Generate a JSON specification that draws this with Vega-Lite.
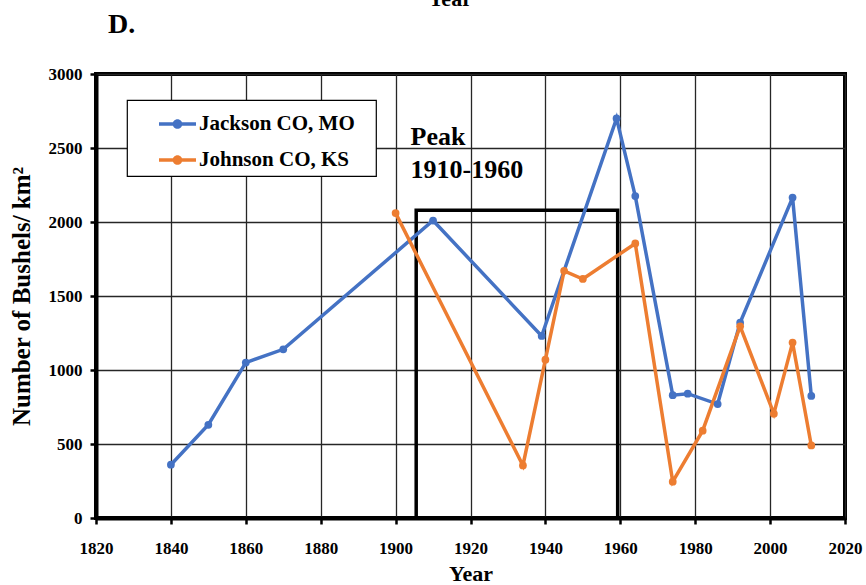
{
  "$schema": "https://vega.github.io/schema/vega-lite/v6.json",
  "width": 749,
  "height": 444,
  "autosize": {"type": "none"},
  "padding": {"left": 96, "top": 74, "right": 21, "bottom": 67},
  "background": "white",
  "datasets": {
    "counties": [
      {"county": "Jackson CO, MO", "year": 1840, "bushels": 360},
      {"county": "Jackson CO, MO", "year": 1850, "bushels": 630},
      {"county": "Jackson CO, MO", "year": 1860, "bushels": 1050},
      {"county": "Jackson CO, MO", "year": 1870, "bushels": 1140},
      {"county": "Jackson CO, MO", "year": 1910, "bushels": 2010},
      {"county": "Jackson CO, MO", "year": 1939, "bushels": 1230},
      {"county": "Jackson CO, MO", "year": 1959, "bushels": 2700},
      {"county": "Jackson CO, MO", "year": 1964, "bushels": 2175},
      {"county": "Jackson CO, MO", "year": 1974, "bushels": 830},
      {"county": "Jackson CO, MO", "year": 1978, "bushels": 840},
      {"county": "Jackson CO, MO", "year": 1986, "bushels": 770},
      {"county": "Jackson CO, MO", "year": 1992, "bushels": 1320},
      {"county": "Jackson CO, MO", "year": 2006, "bushels": 2165},
      {"county": "Jackson CO, MO", "year": 2011, "bushels": 825},
      {"county": "Johnson CO, KS", "year": 1900, "bushels": 2060},
      {"county": "Johnson CO, KS", "year": 1934, "bushels": 355},
      {"county": "Johnson CO, KS", "year": 1940, "bushels": 1070},
      {"county": "Johnson CO, KS", "year": 1945, "bushels": 1670},
      {"county": "Johnson CO, KS", "year": 1950, "bushels": 1615},
      {"county": "Johnson CO, KS", "year": 1964, "bushels": 1855},
      {"county": "Johnson CO, KS", "year": 1974, "bushels": 245},
      {"county": "Johnson CO, KS", "year": 1982, "bushels": 590},
      {"county": "Johnson CO, KS", "year": 1992, "bushels": 1295},
      {"county": "Johnson CO, KS", "year": 2001, "bushels": 705},
      {"county": "Johnson CO, KS", "year": 2006, "bushels": 1185},
      {"county": "Johnson CO, KS", "year": 2011, "bushels": 490}
    ],
    "peak": [
      {"step": 1, "year": 1905.5, "bushels": 0},
      {"step": 2, "year": 1905.5, "bushels": 2080},
      {"step": 3, "year": 1959.3, "bushels": 2080},
      {"step": 4, "year": 1959.3, "bushels": 0}
    ]
  },
  "layer": [
    {
      "data": {"name": "peak"},
      "mark": {"type": "line", "color": "black", "strokeWidth": 3.5, "strokeCap": "butt", "strokeJoin": "miter"},
      "encoding": {
        "x": {
          "field": "year",
          "type": "quantitative",
          "scale": {"domain": [1820, 2020], "nice": false, "zero": false},
          "axis": {
            "title": "Year",
            "values": [1820, 1840, 1860, 1880, 1900, 1920, 1940, 1960, 1980, 2000, 2020],
            "format": "d",
            "labelFlush": false,
            "labelPadding": 16,
            "titlePadding": 7
          }
        },
        "y": {
          "field": "bushels",
          "type": "quantitative",
          "scale": {"domain": [0, 3000], "nice": false},
          "axis": {
            "title": "Number of Bushels/ km²",
            "titleFontSize": 25,
            "values": [0, 500, 1000, 1500, 2000, 2500, 3000],
            "format": "d",
            "labelFlush": false,
            "labelPadding": 8,
            "titlePadding": 14
          }
        },
        "order": {"field": "step"}
      }
    },
    {
      "data": {"name": "counties"},
      "mark": {"type": "line", "strokeWidth": 3.5},
      "encoding": {
        "x": {"field": "year", "type": "quantitative"},
        "y": {"field": "bushels", "type": "quantitative"},
        "color": {
          "field": "county",
          "type": "nominal",
          "legend": {"labelExpr": "datum.label + '\u2800'"}
        }
      }
    },
    {
      "data": {"name": "counties"},
      "mark": {"type": "point", "filled": true, "opacity": 1, "size": 60},
      "encoding": {
        "x": {"field": "year", "type": "quantitative"},
        "y": {"field": "bushels", "type": "quantitative"},
        "color": {"field": "county", "type": "nominal"}
      }
    },
    {
      "data": {"values": [{"label": "Peak"}]},
      "mark": {
        "type": "text",
        "text": ["Peak", "1910-1960"],
        "align": "left",
        "baseline": "alphabetic",
        "lineHeight": 33,
        "font": "Liberation Serif",
        "fontSize": 26,
        "fontWeight": "bold",
        "color": "black"
      },
      "encoding": {
        "x": {"datum": 1904},
        "y": {"datum": 2520}
      }
    },
    {
      "data": {"values": [{"label": "Year"}]},
      "mark": {
        "type": "text",
        "align": "center",
        "baseline": "alphabetic",
        "font": "Liberation Serif",
        "fontSize": 22,
        "fontWeight": "bold",
        "color": "black"
      },
      "encoding": {
        "text": {"field": "label"},
        "x": {"datum": 1914.5},
        "y": {"datum": 3460}
      }
    },
    {
      "data": {"values": [{"label": "D."}]},
      "mark": {
        "type": "text",
        "align": "left",
        "baseline": "alphabetic",
        "font": "Liberation Serif",
        "fontSize": 28,
        "fontWeight": "bold",
        "color": "black"
      },
      "encoding": {
        "text": {"field": "label"},
        "x": {"datum": 1823.2},
        "y": {"datum": 3277}
      }
    }
  ],
  "config": {
    "view": {"stroke": "black", "strokeWidth": 4},
    "font": "Liberation Serif",
    "range": {"category": ["#4472C4", "#ED7D31"]},
    "axis": {
      "labelFont": "Liberation Serif",
      "labelFontSize": 17,
      "labelFontWeight": "bold",
      "labelColor": "black",
      "titleFont": "Liberation Serif",
      "titleFontSize": 22,
      "titleFontWeight": "bold",
      "titleColor": "black",
      "domainColor": "black",
      "domainWidth": 4,
      "tickColor": "black",
      "tickWidth": 2.5,
      "tickSize": 6,
      "gridColor": "#262626",
      "gridWidth": 1.3,
      "gridOpacity": 1
    },
    "legend": {
      "orient": "none",
      "legendX": 31,
      "legendY": 26,
      "title": null,
      "padding": 5.5,
      "strokeColor": "black",
      "strokeWidth": 1.2,
      "fillColor": "white",
      "labelFont": "Liberation Serif",
      "labelFontSize": 21,
      "labelFontWeight": "bold",
      "labelColor": "black",
      "labelOffset": 3,
      "labelLimit": 400,
      "rowPadding": 7,
      "symbolOffset": 26.5,
      "symbolSize": 1369,
      "symbolStrokeWidth": 0,
      "symbolType": "M-1,-0.09H-0.2V0.09H-1Z M0.2,-0.09H1V0.09H0.2Z M0.26,0A0.26,0.26 0 1,1 -0.26,0A0.26,0.26 0 1,1 0.26,0Z"
    }
  }
}
